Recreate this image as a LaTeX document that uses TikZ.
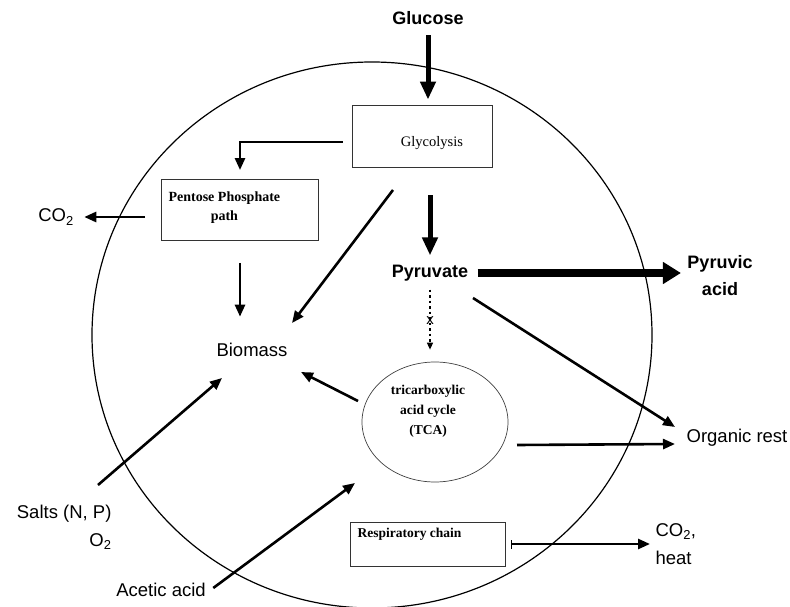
\documentclass[tikz,border=0pt]{standalone}
\usepackage{fontspec}
\setmainfont{Liberation Serif}
\setsansfont{Liberation Sans}
\usetikzlibrary{positioning,arrows.meta,shapes.geometric}

\begin{document}
\begin{tikzpicture}[x=1pt, y=-1pt,
        metab/.style={font=\sffamily\fontsize{18.5}{28}\selectfont, align=center},
        mainmetab/.style={font=\sffamily\bfseries\fontsize{18}{27}\selectfont, align=center},
        pathway/.style={rectangle, draw=black!80, line width=0.9pt},
        boxtext/.style={font=\bfseries\fontsize{14}{19}\selectfont, align=center},
        cycletext/.style={font=\bfseries\fontsize{13.5}{20}\selectfont, align=center},
        arr/.style={line width=2.6pt, -{Triangle[length=12pt,width=10pt]}},
        fatarr/.style={line width=5pt, -{Triangle[length=18pt,width=15pt]}},
        hugearr/.style={line width=8pt, -{Triangle[length=18pt,width=21pt]}},
        dotarr/.style={line width=1.3pt, dash pattern=on 2.5pt off 3pt, -{Triangle[length=7pt,width=6pt]}},
    ]
    \useasboundingbox (0,0) rectangle (790,607);

    % the cell
    \draw[line width=1.2pt] (372,335) ellipse [x radius=280pt, y radius=273pt];

    \node[mainmetab] (glucose) at (428,18) {Glucose};
    \node[pathway, minimum width=140pt, minimum height=62pt,
          label={[xshift=10pt, yshift=-7pt, font=\fontsize{14.5}{19}\selectfont]center:Glycolysis}] (glycolysis) at (422,136) {};
    \node[pathway, minimum width=157pt, minimum height=61pt,
          label={[boxtext, anchor=north west, xshift=4pt, yshift=-9pt]north west:Pentose Phosphate\\path}] (pentose) at (240,210) {};
    \node[metab] (co2) at (56,217) {CO\textsubscript{2}};
    \node[mainmetab] (pyruvate) at (430,273) {Pyruvate};
    \node[mainmetab] (pyruvic) at (720,276) {Pyruvic\\acid};
    \node[metab] (biomass) at (252,350) {Biomass};
    \node[ellipse, draw=black!75, line width=0.7pt, minimum width=146pt, minimum height=120pt,
          label={[cycletext, xshift=-7pt, yshift=11pt]center:tricarboxylic\\acid cycle\\(TCA)}] (tca) at (435,422) {};
    \node[metab] (organic) at (737,438) {Organic rest};
    \node[metab, align=right, anchor=east] (salts) at (115,527) {Salts (N, P)\\O\textsubscript{2}};
    \node[metab] (acetic) at (161,590) {Acetic acid};
    \node[pathway, minimum width=155pt, minimum height=44pt,
          label={[cycletext, anchor=north west, xshift=4pt, yshift=-3pt]north west:Respiratory chain}] (resp) at (428,544) {};
    \node[metab, align=left, anchor=west] (co2heat) at (652,544) {CO\textsubscript{2},\\heat};

    \path[fatarr] (glucose.south) edge[shorten <=7pt, shorten >=5pt] (glucose.south |- glycolysis.north);
    \path[arr] ([xshift=-9pt, yshift=-6pt]glycolysis.west) edge[to path={-| (\tikztotarget)}, shorten >=9pt] (pentose.north);
    \path[arr] (pentose.west |- co2) edge[shorten <=16pt, shorten >=7pt] (co2.east);
    \path[arr] (pentose.south) edge[shorten <=22pt, shorten >=23pt] (pentose.south |- biomass.north);
    \path[arr] ([shift={(-29,54)}]glycolysis.center) edge ([shift={(40,-27)}]biomass.center);

    \path[fatarr] (glycolysis.south -| pyruvate) edge[shorten <=28pt, shorten >=6pt] (pyruvate.north);
    \path[hugearr] (pyruvate.east) edge[shorten <=6pt, shorten >=3pt] (pyruvate.east -| pyruvic.west);
    \path[dotarr] (pyruvate.south) edge[shorten <=5pt, shorten >=12pt]
        node[pos=0.46, inner sep=0pt, font=\sffamily\fontsize{15}{15}\selectfont] {x} (pyruvate.south |- tca.north);
    \path[arr] ([shift={(43,25)}]pyruvate.center) edge ([shift={(-62,-11)}]organic.center);

    \path[arr] ([shift={(82,23)}]tca.center) edge ([shift={(-62,6)}]organic.center);
    \path[arr] ([shift={(-77,-21)}]tca.center) edge ([shift={(49,22)}]biomass.center);
    \path[arr] ([shift={(-17,-42)}]salts.east) edge ([shift={(-30,28)}]biomass.center);
    \path[arr] ([shift={(4,-2)}]acetic.east) edge ([shift={(-80,61)}]tca.center);
    \path[arr, {Bar[width=9pt,line width=1pt]}-{Triangle[length=12pt,width=10pt]}] ([xshift=5pt]resp.east) edge[shorten >=2pt] (co2heat.west |- resp.east);
\end{tikzpicture}
\end{document}
